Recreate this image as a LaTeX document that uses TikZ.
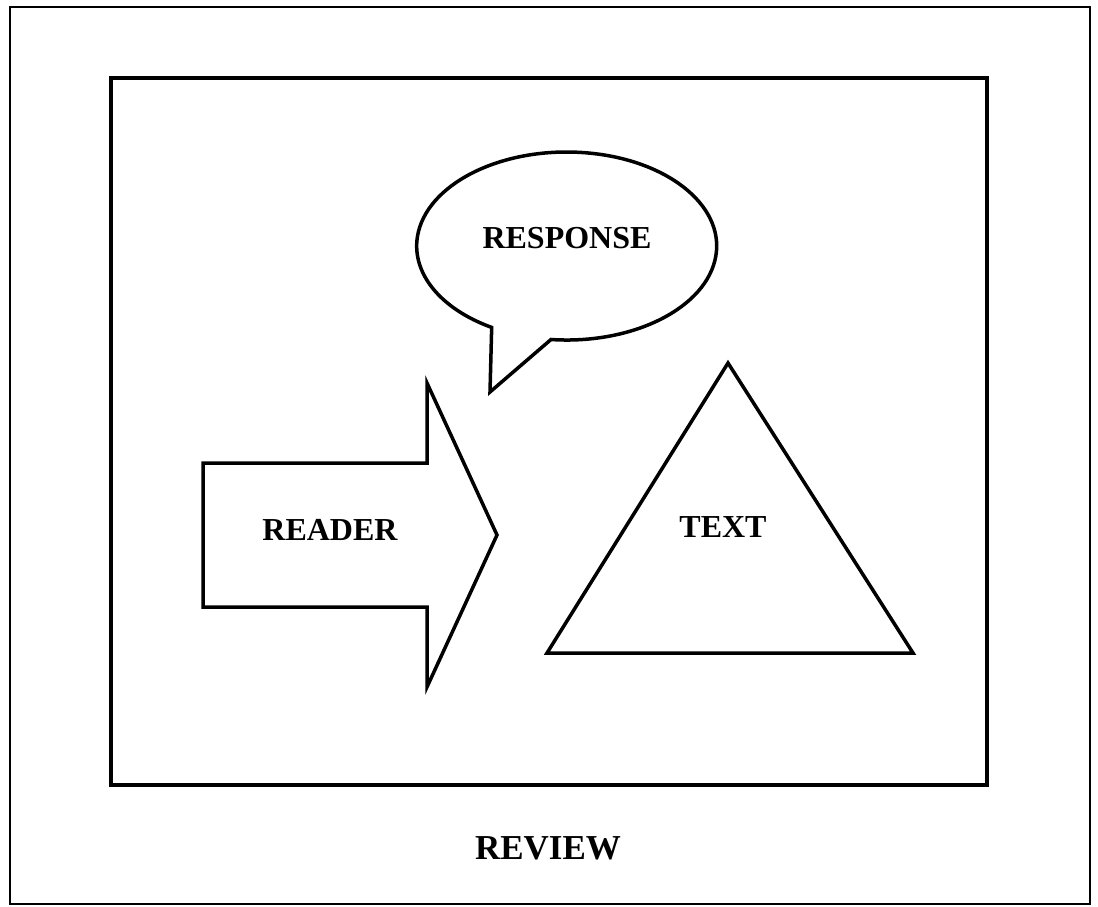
\documentclass[tikz,border=0pt]{standalone}
\usepackage{fontspec}
\setmainfont{Liberation Serif}
\usepackage{tikz}

\tikzset{
  shape line/.style={line width=3.5pt, line join=miter},
  label text/.style={font=\bfseries\fontsize{32}{37}\selectfont, inner sep=0pt}
}

\begin{document}
\begin{tikzpicture}[x=1pt, y=-1pt]
\useasboundingbox (0, 0) rectangle (1098, 907);
\draw [line width=2.2pt] (10, 7) rectangle (1090, 904);
\draw [shape line] (111, 78) rectangle (987, 785);

\draw [shape line] (551, 339.5) arc [start angle=96, end angle=-240, x radius=150, y radius=94] -- (490, 392) -- cycle;
\node [label text] (response) at (567, 238) {RESPONSE};

\draw [shape line] (203, 463) -- (427, 463) -- (427, 383) -- (497, 535) -- (427, 687) -- (427, 607) -- (203, 607) -- cycle;
\node [label text] (reader) at (330, 530) {READER};

\draw [shape line] (728, 363) -- (913, 653) -- (547, 653) -- cycle;
\node [label text] (text) at (723, 527) {TEXT};

\node [label text, font=\bfseries\fontsize{35}{40}\selectfont] (review) at (548, 848) {REVIEW};
\end{tikzpicture}
\end{document}
